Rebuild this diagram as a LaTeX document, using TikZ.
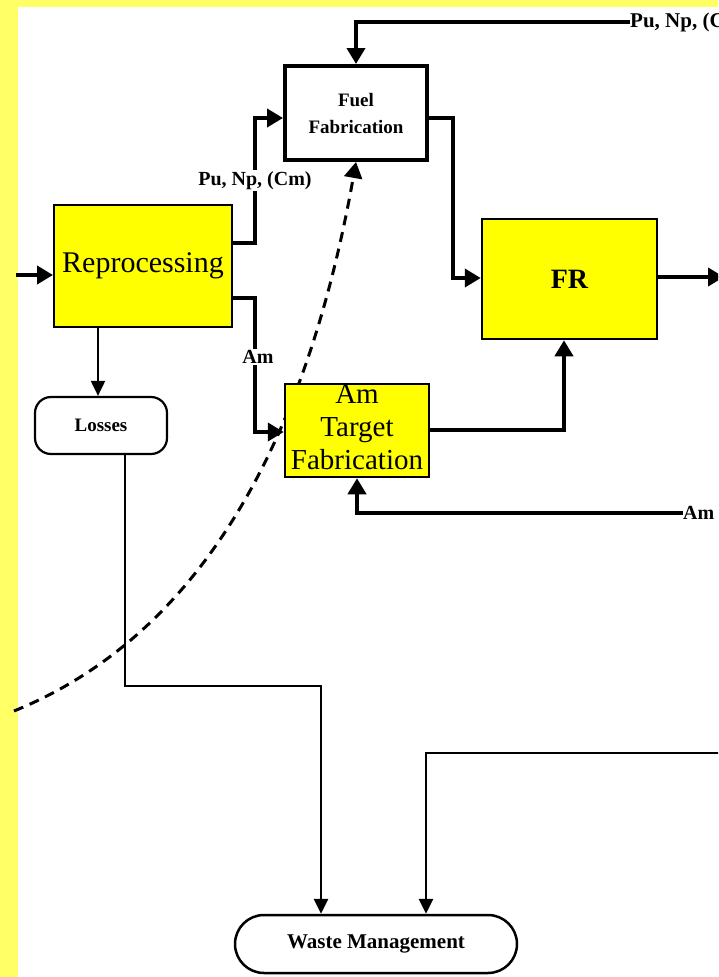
\documentclass[tikz,border=0pt]{standalone}
\usepackage{fontspec}
\setmainfont{Liberation Serif}
\usetikzlibrary{arrows.meta}
\definecolor{edgey}{HTML}{FFFF66}
\definecolor{boxy}{HTML}{FFFF00}
\begin{document}
\begin{tikzpicture}[x=1pt,y=-1pt,
  tipA/.style={-{Triangle[length=16pt,width=18pt]}},
  tipB/.style={-{Triangle[length=15pt,width=14pt]}},
  flow/.style={line width=4.5pt,tipA},
  midflow/.style={line width=2.6pt,tipB},
  thinflow/.style={line width=2pt,tipB},
  ybox/.style={draw,fill=boxy,line width=2pt,inner sep=0pt},
  wbox/.style={draw,fill=white,line width=4pt,inner sep=0pt},
  pill/.style={draw,fill=white,line width=2.2pt,inner sep=0pt},
  lbl/.style={font=\fontsize{20}{22}\selectfont\bfseries,inner sep=1pt,fill=white},
  edgelbl/.style={font=\fontsize{21}{23}\selectfont\bfseries,inner sep=0pt}]
\useasboundingbox (0,0) rectangle (718,977);
\clip (0,0) rectangle (718,977);
\fill[edgey] (0,0) rectangle (718,977);
\fill[white] (18,7) rectangle (718,977);

% nodes
\node[wbox,minimum width=142pt,minimum height=94pt,align=center,
  font=\fontsize{19}{27}\selectfont\bfseries] (fuel) at (356,113) {Fuel\\Fabrication};
\node[ybox,minimum width=178pt,minimum height=122pt,
  font=\fontsize{30}{34}\selectfont] (rep) at (143,266) {Reprocessing};
\node[ybox,line width=2.5pt,minimum width=175pt,minimum height=120pt,
  font=\fontsize{28}{30}\selectfont\bfseries] (fr) at (569.5,279) {FR};
\node[pill,rounded corners=16pt,minimum width=132pt,minimum height=57pt,
  font=\fontsize{19}{21}\selectfont\bfseries] (losses) at (101,425.5) {Losses};
\node[pill,line width=2.5pt,rounded corners=29pt,minimum width=282pt,minimum height=58pt,
  font=\fontsize{21}{23}\selectfont\bfseries] (wm) at (376,944) {Waste Management};
\node[edgelbl,anchor=west] (pnR) at (630,22) {Pu, Np, (Cm)};
\node[edgelbl,font=\fontsize{20}{22}\selectfont\bfseries,anchor=west] (amR) at (683,513) {Am};

\coordinate (inL) at (16,275);
\coordinate (outR) at (724,277);
\coordinate (rightin) at (720,753);
\coordinate (dashS) at (14,711);

% dashed curve (behind the Am target box)
\draw[line width=3pt,dash pattern=on 10pt off 7pt,tipA] (dashS) .. controls (218,628) and (312,410) .. (fuel.south);

\node[ybox,line width=2.5pt,minimum width=144pt,minimum height=93pt] (amt) at (357,430.5) {};
\node[align=center,inner sep=0pt,font=\fontsize{29}{33}\selectfont] (amttext) at (357,427) {Am\\Target\\Fabrication};

% connectors
\draw[flow] (inL) -- (rep.west |- 0,275);
\draw[flow] (rep.east |- 0,243) -- (255,243) -- node[lbl] {Pu, Np, (Cm)} (255,118) -- (fuel.west |- 0,118);
\draw[flow] (rep.east |- 0,298) -- (255,298) -- node[lbl,pos=0.44,xshift=3pt] {Am} (255,432) -- (amt.west |- 0,432);
\draw[thinflow] (rep.south -| 98,0) -- (losses.north -| 98,0);
\draw[flow] (pnR.west) -| (fuel.north);
\draw[flow] (fuel.east |- 0,118) -- (453,118) -- (453,278) -- (fr.west |- 0,278);
\draw[flow] (fr.east |- 0,277) -- (outR);
\draw[flow] (amt.east |- 0,430) -- (564,430) -- (fr.south -| 564,0);
\draw[flow] (amR.west) -| (amt.south);
\draw[midflow] (losses.south -| 125,0) -- (125,686) -| (wm.north -| 321,0);
\draw[midflow] (rightin) -| (wm.north -| 426,0);
\end{tikzpicture}
\end{document}
